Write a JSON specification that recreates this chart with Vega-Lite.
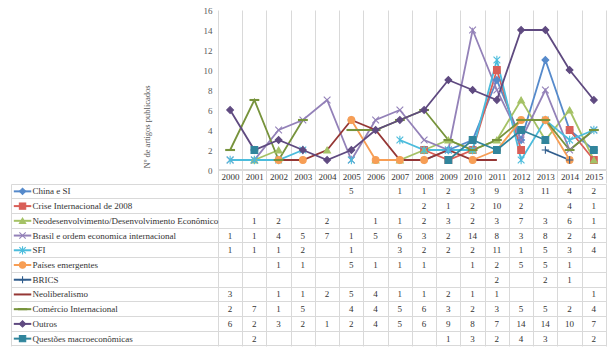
{
  "$schema": "https://vega.github.io/schema/vega-lite/v6.json",
  "background": "white",
  "padding": {"left": 11, "top": 6, "right": 0, "bottom": 11},
  "spacing": 0,
  "config": {"view": {"stroke": null}, "font": "Liberation Serif", "axis": {"labelOverlap": false, "labelFlush": false}},
  "data": {"values": [
    {"serie":"China e SI","ano":2000,"n":null},{"serie":"China e SI","ano":2001,"n":null},{"serie":"China e SI","ano":2002,"n":null},{"serie":"China e SI","ano":2003,"n":null},{"serie":"China e SI","ano":2004,"n":null},{"serie":"China e SI","ano":2005,"n":5},{"serie":"China e SI","ano":2006,"n":null},{"serie":"China e SI","ano":2007,"n":1},{"serie":"China e SI","ano":2008,"n":1},{"serie":"China e SI","ano":2009,"n":2},{"serie":"China e SI","ano":2010,"n":3},{"serie":"China e SI","ano":2011,"n":9},{"serie":"China e SI","ano":2012,"n":3},{"serie":"China e SI","ano":2013,"n":11},{"serie":"China e SI","ano":2014,"n":4},{"serie":"China e SI","ano":2015,"n":2},
    {"serie":"Crise Internacional de 2008","ano":2000,"n":null},{"serie":"Crise Internacional de 2008","ano":2001,"n":null},{"serie":"Crise Internacional de 2008","ano":2002,"n":null},{"serie":"Crise Internacional de 2008","ano":2003,"n":null},{"serie":"Crise Internacional de 2008","ano":2004,"n":null},{"serie":"Crise Internacional de 2008","ano":2005,"n":null},{"serie":"Crise Internacional de 2008","ano":2006,"n":null},{"serie":"Crise Internacional de 2008","ano":2007,"n":null},{"serie":"Crise Internacional de 2008","ano":2008,"n":2},{"serie":"Crise Internacional de 2008","ano":2009,"n":1},{"serie":"Crise Internacional de 2008","ano":2010,"n":2},{"serie":"Crise Internacional de 2008","ano":2011,"n":10},{"serie":"Crise Internacional de 2008","ano":2012,"n":2},{"serie":"Crise Internacional de 2008","ano":2013,"n":null},{"serie":"Crise Internacional de 2008","ano":2014,"n":4},{"serie":"Crise Internacional de 2008","ano":2015,"n":1},
    {"serie":"Neodesenvolvimento/Desenvolvimento Econômico","ano":2000,"n":null},{"serie":"Neodesenvolvimento/Desenvolvimento Econômico","ano":2001,"n":1},{"serie":"Neodesenvolvimento/Desenvolvimento Econômico","ano":2002,"n":2},{"serie":"Neodesenvolvimento/Desenvolvimento Econômico","ano":2003,"n":null},{"serie":"Neodesenvolvimento/Desenvolvimento Econômico","ano":2004,"n":2},{"serie":"Neodesenvolvimento/Desenvolvimento Econômico","ano":2005,"n":null},{"serie":"Neodesenvolvimento/Desenvolvimento Econômico","ano":2006,"n":1},{"serie":"Neodesenvolvimento/Desenvolvimento Econômico","ano":2007,"n":1},{"serie":"Neodesenvolvimento/Desenvolvimento Econômico","ano":2008,"n":2},{"serie":"Neodesenvolvimento/Desenvolvimento Econômico","ano":2009,"n":3},{"serie":"Neodesenvolvimento/Desenvolvimento Econômico","ano":2010,"n":2},{"serie":"Neodesenvolvimento/Desenvolvimento Econômico","ano":2011,"n":3},{"serie":"Neodesenvolvimento/Desenvolvimento Econômico","ano":2012,"n":7},{"serie":"Neodesenvolvimento/Desenvolvimento Econômico","ano":2013,"n":3},{"serie":"Neodesenvolvimento/Desenvolvimento Econômico","ano":2014,"n":6},{"serie":"Neodesenvolvimento/Desenvolvimento Econômico","ano":2015,"n":1},
    {"serie":"Brasil e ordem economica internacional","ano":2000,"n":1},{"serie":"Brasil e ordem economica internacional","ano":2001,"n":1},{"serie":"Brasil e ordem economica internacional","ano":2002,"n":4},{"serie":"Brasil e ordem economica internacional","ano":2003,"n":5},{"serie":"Brasil e ordem economica internacional","ano":2004,"n":7},{"serie":"Brasil e ordem economica internacional","ano":2005,"n":1},{"serie":"Brasil e ordem economica internacional","ano":2006,"n":5},{"serie":"Brasil e ordem economica internacional","ano":2007,"n":6},{"serie":"Brasil e ordem economica internacional","ano":2008,"n":3},{"serie":"Brasil e ordem economica internacional","ano":2009,"n":2},{"serie":"Brasil e ordem economica internacional","ano":2010,"n":14},{"serie":"Brasil e ordem economica internacional","ano":2011,"n":8},{"serie":"Brasil e ordem economica internacional","ano":2012,"n":3},{"serie":"Brasil e ordem economica internacional","ano":2013,"n":8},{"serie":"Brasil e ordem economica internacional","ano":2014,"n":2},{"serie":"Brasil e ordem economica internacional","ano":2015,"n":4},
    {"serie":"SFI","ano":2000,"n":1},{"serie":"SFI","ano":2001,"n":1},{"serie":"SFI","ano":2002,"n":1},{"serie":"SFI","ano":2003,"n":2},{"serie":"SFI","ano":2004,"n":null},{"serie":"SFI","ano":2005,"n":1},{"serie":"SFI","ano":2006,"n":null},{"serie":"SFI","ano":2007,"n":3},{"serie":"SFI","ano":2008,"n":2},{"serie":"SFI","ano":2009,"n":2},{"serie":"SFI","ano":2010,"n":2},{"serie":"SFI","ano":2011,"n":11},{"serie":"SFI","ano":2012,"n":1},{"serie":"SFI","ano":2013,"n":5},{"serie":"SFI","ano":2014,"n":3},{"serie":"SFI","ano":2015,"n":4},
    {"serie":"Países emergentes","ano":2000,"n":null},{"serie":"Países emergentes","ano":2001,"n":null},{"serie":"Países emergentes","ano":2002,"n":1},{"serie":"Países emergentes","ano":2003,"n":1},{"serie":"Países emergentes","ano":2004,"n":null},{"serie":"Países emergentes","ano":2005,"n":5},{"serie":"Países emergentes","ano":2006,"n":1},{"serie":"Países emergentes","ano":2007,"n":1},{"serie":"Países emergentes","ano":2008,"n":1},{"serie":"Países emergentes","ano":2009,"n":null},{"serie":"Países emergentes","ano":2010,"n":1},{"serie":"Países emergentes","ano":2011,"n":2},{"serie":"Países emergentes","ano":2012,"n":5},{"serie":"Países emergentes","ano":2013,"n":5},{"serie":"Países emergentes","ano":2014,"n":1},{"serie":"Países emergentes","ano":2015,"n":null},
    {"serie":"BRICS","ano":2000,"n":null},{"serie":"BRICS","ano":2001,"n":null},{"serie":"BRICS","ano":2002,"n":null},{"serie":"BRICS","ano":2003,"n":null},{"serie":"BRICS","ano":2004,"n":null},{"serie":"BRICS","ano":2005,"n":null},{"serie":"BRICS","ano":2006,"n":null},{"serie":"BRICS","ano":2007,"n":null},{"serie":"BRICS","ano":2008,"n":null},{"serie":"BRICS","ano":2009,"n":null},{"serie":"BRICS","ano":2010,"n":null},{"serie":"BRICS","ano":2011,"n":2},{"serie":"BRICS","ano":2012,"n":null},{"serie":"BRICS","ano":2013,"n":2},{"serie":"BRICS","ano":2014,"n":1},{"serie":"BRICS","ano":2015,"n":null},
    {"serie":"Neoliberalismo","ano":2000,"n":3},{"serie":"Neoliberalismo","ano":2001,"n":null},{"serie":"Neoliberalismo","ano":2002,"n":1},{"serie":"Neoliberalismo","ano":2003,"n":1},{"serie":"Neoliberalismo","ano":2004,"n":2},{"serie":"Neoliberalismo","ano":2005,"n":5},{"serie":"Neoliberalismo","ano":2006,"n":4},{"serie":"Neoliberalismo","ano":2007,"n":1},{"serie":"Neoliberalismo","ano":2008,"n":1},{"serie":"Neoliberalismo","ano":2009,"n":2},{"serie":"Neoliberalismo","ano":2010,"n":1},{"serie":"Neoliberalismo","ano":2011,"n":1},{"serie":"Neoliberalismo","ano":2012,"n":null},{"serie":"Neoliberalismo","ano":2013,"n":null},{"serie":"Neoliberalismo","ano":2014,"n":null},{"serie":"Neoliberalismo","ano":2015,"n":1},
    {"serie":"Comércio Internacional","ano":2000,"n":2},{"serie":"Comércio Internacional","ano":2001,"n":7},{"serie":"Comércio Internacional","ano":2002,"n":1},{"serie":"Comércio Internacional","ano":2003,"n":5},{"serie":"Comércio Internacional","ano":2004,"n":null},{"serie":"Comércio Internacional","ano":2005,"n":4},{"serie":"Comércio Internacional","ano":2006,"n":4},{"serie":"Comércio Internacional","ano":2007,"n":5},{"serie":"Comércio Internacional","ano":2008,"n":6},{"serie":"Comércio Internacional","ano":2009,"n":3},{"serie":"Comércio Internacional","ano":2010,"n":2},{"serie":"Comércio Internacional","ano":2011,"n":3},{"serie":"Comércio Internacional","ano":2012,"n":5},{"serie":"Comércio Internacional","ano":2013,"n":5},{"serie":"Comércio Internacional","ano":2014,"n":2},{"serie":"Comércio Internacional","ano":2015,"n":4},
    {"serie":"Outros","ano":2000,"n":6},{"serie":"Outros","ano":2001,"n":2},{"serie":"Outros","ano":2002,"n":3},{"serie":"Outros","ano":2003,"n":2},{"serie":"Outros","ano":2004,"n":1},{"serie":"Outros","ano":2005,"n":2},{"serie":"Outros","ano":2006,"n":4},{"serie":"Outros","ano":2007,"n":5},{"serie":"Outros","ano":2008,"n":6},{"serie":"Outros","ano":2009,"n":9},{"serie":"Outros","ano":2010,"n":8},{"serie":"Outros","ano":2011,"n":7},{"serie":"Outros","ano":2012,"n":14},{"serie":"Outros","ano":2013,"n":14},{"serie":"Outros","ano":2014,"n":10},{"serie":"Outros","ano":2015,"n":7},
    {"serie":"Questões macroeconômicas","ano":2000,"n":null},{"serie":"Questões macroeconômicas","ano":2001,"n":2},{"serie":"Questões macroeconômicas","ano":2002,"n":null},{"serie":"Questões macroeconômicas","ano":2003,"n":null},{"serie":"Questões macroeconômicas","ano":2004,"n":null},{"serie":"Questões macroeconômicas","ano":2005,"n":null},{"serie":"Questões macroeconômicas","ano":2006,"n":null},{"serie":"Questões macroeconômicas","ano":2007,"n":null},{"serie":"Questões macroeconômicas","ano":2008,"n":null},{"serie":"Questões macroeconômicas","ano":2009,"n":1},{"serie":"Questões macroeconômicas","ano":2010,"n":3},{"serie":"Questões macroeconômicas","ano":2011,"n":2},{"serie":"Questões macroeconômicas","ano":2012,"n":4},{"serie":"Questões macroeconômicas","ano":2013,"n":3},{"serie":"Questões macroeconômicas","ano":2014,"n":null},{"serie":"Questões macroeconômicas","ano":2015,"n":2}
  ]},
  "resolve": {"scale": {"x": "independent", "y": "independent"}},
  "vconcat": [
    {
      "width": 595,
      "height": 160,
      "layer": [
        {
          "mark": {"type": "line", "strokeWidth": 1.8, "invalid": "break-paths-filter-domains"},
          "encoding": {
            "x": {"field": "ano", "type": "quantitative", "scale": {"domain": [1990.964, 2015.5], "nice": false, "zero": false}, "axis": {"orient": "bottom", "values": [1999.5,2000.5,2001.5,2002.5,2003.5,2004.5,2005.5,2006.5,2007.5,2008.5,2009.5,2010.5,2011.5,2012.5,2013.5,2014.5,2015.5], "tickCount": 60, "grid": true, "gridColor": "#D9D9D9", "gridWidth": 1, "domain": false, "ticks": true, "tickSize": 13, "tickColor": "#D9D9D9", "tickWidth": 1, "labelExpr": "datum.value < 2015 ? format(datum.value + 0.5, 'd') : ''", "labelOffset": 12.125, "labelPadding": -6.5, "labelBaseline": "middle", "labelFontSize": 9, "labelFont": "Liberation Serif", "labelColor": "#333333", "labelFlush": false, "labelOverlap": false, "title": null}},
            "y": {"field": "n", "type": "quantitative", "scale": {"domain": [0, 16], "nice": false}, "axis": {"orient": "left", "offset": -207, "values": [0,2,4,6,8,10,12,14,16], "tickCount": 40, "format": "d", "grid": false, "domain": false, "ticks": false, "labelPadding": 6, "labelOverlap": false, "labelFontSize": 9, "labelFont": "Liberation Serif", "labelColor": "#595959", "title": "Nº de artigos publicados", "titleFont": "Liberation Serif", "titleFontSize": 8.5, "titleFontWeight": "normal", "titleColor": "#595959", "titleX": -72, "titleY": 158, "titleAlign": "left", "titleAngle": -90, "titleBaseline": "middle"}},
            "color": {"field": "serie", "type": "nominal", "legend": null, "scale": {"domain": ["China e SI","Crise Internacional de 2008","Neodesenvolvimento/Desenvolvimento Econômico","Brasil e ordem economica internacional","SFI","Países emergentes","BRICS","Neoliberalismo","Comércio Internacional","Outros","Questões macroeconômicas"], "range": ["#568ACB","#D95F58","#A5C266","#9381B8","#4BBCDC","#F79E55","#2F5C8C","#953735","#77933C","#5F4A80","#31859C"]}}
          }
        },
        {
          "mark": {"type": "rule", "color": "#D9D9D9", "strokeWidth": 1},
          "encoding": {
            "x": {"datum": 1999.5, "type": "quantitative"},
            "x2": {"datum": 2015.5},
            "y": {"datum": 0, "type": "quantitative"}
          }
        },
        {
          "transform": [{"filter": "datum.n != null && datum.serie != 'Neoliberalismo'"}],
          "mark": {"type": "point", "filled": true, "size": 45, "strokeWidth": 1.1, "opacity": 1},
          "encoding": {
            "x": {"field": "ano", "type": "quantitative"},
            "y": {"field": "n", "type": "quantitative"},
            "color": {"field": "serie", "type": "nominal", "legend": null},
            "stroke": {"field": "serie", "type": "nominal", "legend": null, "scale": {"domain": ["China e SI","Crise Internacional de 2008","Neodesenvolvimento/Desenvolvimento Econômico","Brasil e ordem economica internacional","SFI","Países emergentes","BRICS","Neoliberalismo","Comércio Internacional","Outros","Questões macroeconômicas"], "range": ["#568ACB","#D95F58","#A5C266","#9381B8","#4BBCDC","#F79E55","#2F5C8C","#953735","#77933C","#5F4A80","#31859C"]}},
            "shape": {"field": "serie", "type": "nominal", "legend": null, "scale": {"domain": ["China e SI","Crise Internacional de 2008","Neodesenvolvimento/Desenvolvimento Econômico","Brasil e ordem economica internacional","SFI","Países emergentes","BRICS","Neoliberalismo","Comércio Internacional","Outros","Questões macroeconômicas"], "range": ["diamond","square","triangle-up","M-1,-1L1,1M-1,1L1,-1","M-1,-1L1,1M-1,1L1,-1M0,-1.3L0,1.3","circle","M-1.1,0L1.1,0M0,-1.1L0,1.1","M-0.6,-0.12L0.6,-0.12L0.6,0.12L-0.6,0.12Z","M-1.3,-0.15L1.3,-0.15L1.3,0.15L-1.3,0.15Z","diamond","square"]}}
          }
        }
      ]
    },
    {
      "width": 595,
      "height": 162,
      "encoding": {
        "y": {"field": "serie", "type": "nominal", "scale": {"domain": ["China e SI","Crise Internacional de 2008","Neodesenvolvimento/Desenvolvimento Econômico","Brasil e ordem economica internacional","SFI","Países emergentes","BRICS","Neoliberalismo","Comércio Internacional","Outros","Questões macroeconômicas"], "paddingInner": 0, "paddingOuter": 0}, "axis": {"orient": "left", "labels": false, "ticks": false, "domain": true, "domainColor": "#D9D9D9", "grid": true, "gridColor": "#D9D9D9", "bandPosition": 1, "title": null, "minExtent": 0, "maxExtent": 0}}
      },
      "layer": [
        {
          "transform": [{"filter": "datum.n != null"}],
          "mark": {"type": "text", "fontSize": 9, "font": "Liberation Serif", "color": "#333333"},
          "encoding": {
            "x": {"field": "ano", "type": "quantitative", "scale": {"domain": [1990.964, 2015.5], "nice": false, "zero": false}, "axis": {"orient": "top", "values": [1999.5,2000.5,2001.5,2002.5,2003.5,2004.5,2005.5,2006.5,2007.5,2008.5,2009.5,2010.5,2011.5,2012.5,2013.5,2014.5,2015.5], "tickCount": 60, "grid": true, "gridColor": "#D9D9D9", "domain": true, "domainColor": "#D9D9D9", "ticks": false, "labels": false, "title": null, "minExtent": 0, "maxExtent": 0}},
            "text": {"field": "n", "type": "quantitative"}
          }
        },
        {
          "transform": [{"filter": "datum.ano == 2000"}],
          "mark": {"type": "text", "align": "left", "fontSize": 9, "font": "Liberation Serif", "color": "#333333"},
          "encoding": {
            "x": {"datum": 1991.85, "type": "quantitative"},
            "text": {"field": "serie", "type": "nominal"}
          }
        },
        {
          "transform": [{"filter": "datum.ano == 2000"}],
          "mark": {"type": "rule", "strokeWidth": 2},
          "encoding": {
            "x": {"datum": 1991.08, "type": "quantitative"},
            "x2": {"datum": 1991.8},
            "color": {"field": "serie", "type": "nominal", "legend": null}
          }
        },
        {
          "transform": [{"filter": "datum.ano == 2000 && datum.serie != 'Neoliberalismo'"}],
          "mark": {"type": "point", "filled": true, "size": 40, "strokeWidth": 1.1, "opacity": 1},
          "encoding": {
            "x": {"datum": 1991.44, "type": "quantitative"},
            "color": {"field": "serie", "type": "nominal", "legend": null},
            "stroke": {"field": "serie", "type": "nominal", "legend": null},
            "shape": {"field": "serie", "type": "nominal", "legend": null}
          }
        }
      ]
    }
  ]
}
